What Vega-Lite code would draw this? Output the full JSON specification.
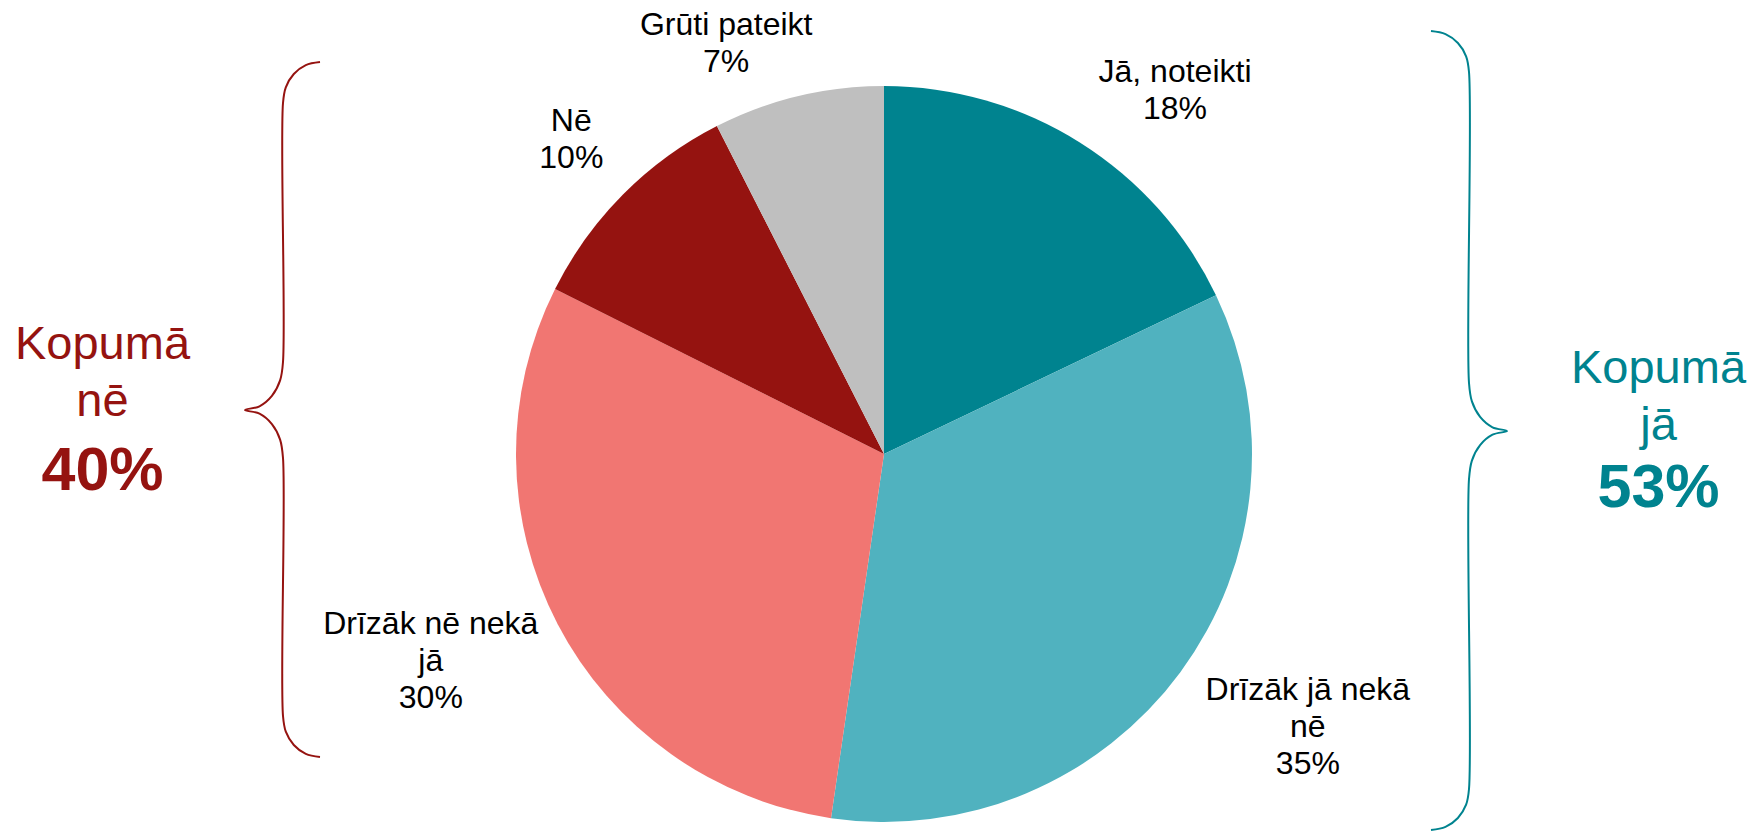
{
  "$schema": "https://vega.github.io/schema/vega-lite/v6.json",
  "width": 1764,
  "height": 832,
  "autosize": {"type": "none"},
  "padding": 0,
  "background": "white",
  "config": {"view": {"stroke": null}, "font": "Liberation Sans"},
  "datasets": {
    "answers": [
      {"idx": 0, "answer": "Jā, noteikti", "value": 17.9, "label": "Jā, noteikti\n18%"},
      {"idx": 1, "answer": "Drīzāk jā nekā nē", "value": 34.4, "label": "Drīzāk jā nekā\nnē\n35%"},
      {"idx": 2, "answer": "Drīzāk nē nekā jā", "value": 30.1, "label": "Drīzāk nē nekā\njā\n30%"},
      {"idx": 3, "answer": "Nē", "value": 10.1, "label": "Nē\n10%"},
      {"idx": 4, "answer": "Grūti pateikt", "value": 7.5, "label": "Grūti pateikt\n7%"}
    ],
    "braces": [
      {"side": "nē", "i": 0, "x": 320, "y": 62},
      {"side": "nē", "i": 1, "x": 305.8, "y": 65.1},
      {"side": "nē", "i": 2, "x": 293.8, "y": 74},
      {"side": "nē", "i": 3, "x": 285.8, "y": 87.3},
      {"side": "nē", "i": 4, "x": 283, "y": 103},
      {"side": "nē", "i": 5, "x": 283, "y": 362},
      {"side": "nē", "i": 6, "x": 280.1, "y": 380.4},
      {"side": "nē", "i": 7, "x": 271.9, "y": 395.9},
      {"side": "nē", "i": 8, "x": 259.5, "y": 406.3},
      {"side": "nē", "i": 9, "x": 245, "y": 410},
      {"side": "nē", "i": 10, "x": 259.5, "y": 413.7},
      {"side": "nē", "i": 11, "x": 271.9, "y": 424.1},
      {"side": "nē", "i": 12, "x": 280.1, "y": 439.6},
      {"side": "nē", "i": 13, "x": 283, "y": 458},
      {"side": "nē", "i": 14, "x": 283, "y": 716},
      {"side": "nē", "i": 15, "x": 285.8, "y": 731.7},
      {"side": "nē", "i": 16, "x": 293.8, "y": 745},
      {"side": "nē", "i": 17, "x": 305.8, "y": 753.9},
      {"side": "nē", "i": 18, "x": 320, "y": 757},
      {"side": "jā", "i": 0, "x": 1431, "y": 31},
      {"side": "jā", "i": 1, "x": 1445.5, "y": 34.1},
      {"side": "jā", "i": 2, "x": 1457.9, "y": 43},
      {"side": "jā", "i": 3, "x": 1466.1, "y": 56.3},
      {"side": "jā", "i": 4, "x": 1469, "y": 72},
      {"side": "jā", "i": 5, "x": 1469, "y": 383},
      {"side": "jā", "i": 6, "x": 1471.9, "y": 401.4},
      {"side": "jā", "i": 7, "x": 1480.1, "y": 416.9},
      {"side": "jā", "i": 8, "x": 1492.5, "y": 427.3},
      {"side": "jā", "i": 9, "x": 1507, "y": 431},
      {"side": "jā", "i": 10, "x": 1492.5, "y": 434.7},
      {"side": "jā", "i": 11, "x": 1480.1, "y": 445.1},
      {"side": "jā", "i": 12, "x": 1471.9, "y": 460.6},
      {"side": "jā", "i": 13, "x": 1469, "y": 479},
      {"side": "jā", "i": 14, "x": 1469, "y": 789},
      {"side": "jā", "i": 15, "x": 1466.1, "y": 804.7},
      {"side": "jā", "i": 16, "x": 1457.9, "y": 818},
      {"side": "jā", "i": 17, "x": 1445.5, "y": 826.9},
      {"side": "jā", "i": 18, "x": 1431, "y": 830}
    ]
  },
  "layer": [
    {
      "data": {"name": "answers"},
      "mark": {"type": "arc", "outerRadius": 368},
      "encoding": {
        "x": {"datum": 884, "type": "quantitative", "scale": {"domain": [0, 1764], "nice": false, "zero": false}, "axis": null},
        "y": {"datum": 454, "type": "quantitative", "scale": {"domain": [0, 832], "nice": false, "zero": false, "reverse": true}, "axis": null},
        "theta": {"field": "value", "type": "quantitative", "stack": true},
        "order": {"field": "idx", "type": "quantitative"},
        "color": {
          "field": "answer", "type": "nominal", "legend": null,
          "scale": {
            "domain": ["Jā, noteikti", "Drīzāk jā nekā nē", "Drīzāk nē nekā jā", "Nē", "Grūti pateikt"],
            "range": ["#00838F", "#50B2BF", "#F17672", "#951310", "#BFBFBF"]
          }
        }
      }
    },
    {
      "data": {"name": "answers"},
      "mark": {"type": "text", "radius": 480, "thetaOffset": 0.089, "fontSize": 32, "lineHeight": 37, "lineBreak": "\n", "align": "center", "baseline": "middle", "color": "#000000"},
      "encoding": {
        "x": {"datum": 884, "type": "quantitative"},
        "y": {"datum": 454, "type": "quantitative"},
        "theta": {"field": "value", "type": "quantitative", "stack": true},
        "order": {"field": "idx", "type": "quantitative"},
        "detail": {"field": "answer", "type": "nominal"},
        "text": {"condition": {"test": "datum.idx === 0", "field": "label"}, "value": ""}
      }
    },
    {
      "data": {"name": "answers"},
      "mark": {"type": "text", "radius": 485, "thetaOffset": -0.127, "fontSize": 32, "lineHeight": 37, "lineBreak": "\n", "align": "center", "baseline": "middle", "color": "#000000"},
      "encoding": {
        "x": {"datum": 884, "type": "quantitative"},
        "y": {"datum": 454, "type": "quantitative"},
        "theta": {"field": "value", "type": "quantitative", "stack": true},
        "order": {"field": "idx", "type": "quantitative"},
        "detail": {"field": "answer", "type": "nominal"},
        "text": {"condition": {"test": "datum.idx === 1", "field": "label"}, "value": ""}
      }
    },
    {
      "data": {"name": "answers"},
      "mark": {"type": "text", "radius": 484, "thetaOffset": 0.122, "fontSize": 32, "lineHeight": 37, "lineBreak": "\n", "align": "center", "baseline": "middle", "color": "#000000"},
      "encoding": {
        "x": {"datum": 884, "type": "quantitative"},
        "y": {"datum": 454, "type": "quantitative"},
        "theta": {"field": "value", "type": "quantitative", "stack": true},
        "order": {"field": "idx", "type": "quantitative"},
        "detail": {"field": "answer", "type": "nominal"},
        "text": {"condition": {"test": "datum.idx === 2", "field": "label"}, "value": ""}
      }
    },
    {
      "data": {"name": "answers"},
      "mark": {"type": "text", "radius": 457, "thetaOffset": 0.035, "fontSize": 32, "lineHeight": 37, "lineBreak": "\n", "align": "center", "baseline": "middle", "color": "#000000"},
      "encoding": {
        "x": {"datum": 884, "type": "quantitative"},
        "y": {"datum": 454, "type": "quantitative"},
        "theta": {"field": "value", "type": "quantitative", "stack": true},
        "order": {"field": "idx", "type": "quantitative"},
        "detail": {"field": "answer", "type": "nominal"},
        "text": {"condition": {"test": "datum.idx === 3", "field": "label"}, "value": ""}
      }
    },
    {
      "data": {"name": "answers"},
      "mark": {"type": "text", "radius": 457, "thetaOffset": -0.117, "fontSize": 32, "lineHeight": 37, "lineBreak": "\n", "align": "center", "baseline": "middle", "color": "#000000"},
      "encoding": {
        "x": {"datum": 884, "type": "quantitative"},
        "y": {"datum": 454, "type": "quantitative"},
        "theta": {"field": "value", "type": "quantitative", "stack": true},
        "order": {"field": "idx", "type": "quantitative"},
        "detail": {"field": "answer", "type": "nominal"},
        "text": {"condition": {"test": "datum.idx === 4", "field": "label"}, "value": ""}
      }
    },
    {
      "data": {"name": "braces"},
      "transform": [{"filter": "datum.side === 'nē'"}],
      "mark": {"type": "line", "interpolate": "catmull-rom", "strokeWidth": 2, "color": "#951310"},
      "encoding": {
        "x": {"field": "x", "type": "quantitative"},
        "y": {"field": "y", "type": "quantitative"},
        "order": {"field": "i", "type": "quantitative"}
      }
    },
    {
      "data": {"name": "braces"},
      "transform": [{"filter": "datum.side === 'jā'"}],
      "mark": {"type": "line", "interpolate": "catmull-rom", "strokeWidth": 2, "color": "#00838F"},
      "encoding": {
        "x": {"field": "x", "type": "quantitative"},
        "y": {"field": "y", "type": "quantitative"},
        "order": {"field": "i", "type": "quantitative"}
      }
    },
    {
      "data": {"values": [{"t": "Kopumā\nnē"}]},
      "mark": {"type": "text", "fontSize": 47, "lineHeight": 57, "lineBreak": "\n", "align": "center", "baseline": "alphabetic", "color": "#951310"},
      "encoding": {
        "x": {"datum": 102.5, "type": "quantitative"},
        "y": {"datum": 359, "type": "quantitative"},
        "text": {"field": "t"}
      }
    },
    {
      "data": {"values": [{"t": "40%"}]},
      "mark": {"type": "text", "fontSize": 61, "fontWeight": "bold", "align": "center", "baseline": "alphabetic", "color": "#951310"},
      "encoding": {
        "x": {"datum": 102.5, "type": "quantitative"},
        "y": {"datum": 490, "type": "quantitative"},
        "text": {"field": "t"}
      }
    },
    {
      "data": {"values": [{"t": "Kopumā\njā"}]},
      "mark": {"type": "text", "fontSize": 47, "lineHeight": 57, "lineBreak": "\n", "align": "center", "baseline": "alphabetic", "color": "#00838F"},
      "encoding": {
        "x": {"datum": 1658.5, "type": "quantitative"},
        "y": {"datum": 383, "type": "quantitative"},
        "text": {"field": "t"}
      }
    },
    {
      "data": {"values": [{"t": "53%"}]},
      "mark": {"type": "text", "fontSize": 61, "fontWeight": "bold", "align": "center", "baseline": "alphabetic", "color": "#00838F"},
      "encoding": {
        "x": {"datum": 1658.5, "type": "quantitative"},
        "y": {"datum": 507, "type": "quantitative"},
        "text": {"field": "t"}
      }
    }
  ]
}
